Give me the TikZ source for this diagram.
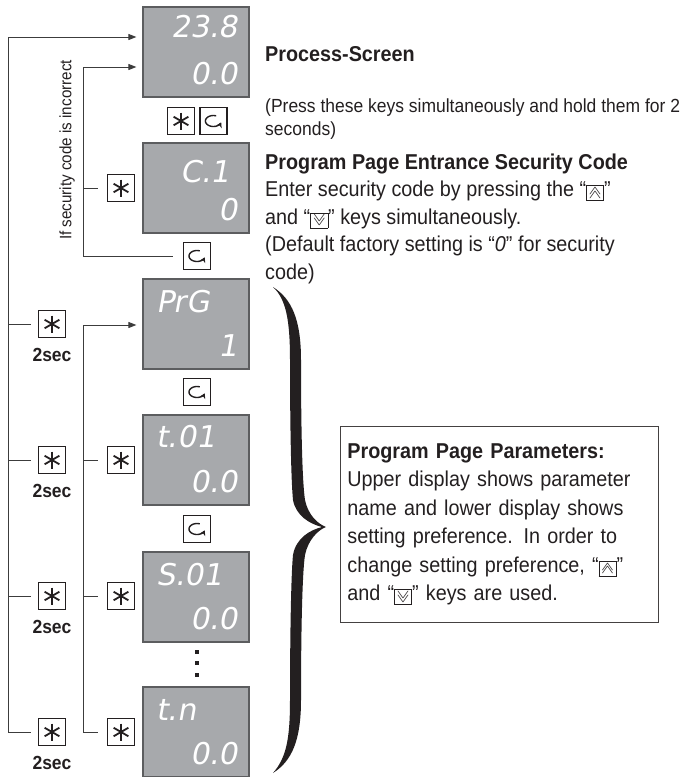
\documentclass[tikz,border=0pt]{standalone}
\usepackage{fontspec}
\usepackage{graphicx}
\setmainfont{Liberation Sans}[FakeStretch=0.92]
\newfontfamily\segfont{DejaVu Sans}[FakeSlant=0.18]
\usetikzlibrary{positioning,arrows.meta,calc}
\definecolor{lcd}{HTML}{A7A9AC}
\definecolor{lcdedge}{HTML}{5C5D5F}
\definecolor{ink}{HTML}{231F20}
\definecolor{wire}{HTML}{3C3C3C}
\newcommand{\headfont}{\fontsize{21.5}{28}\selectfont\bfseries}
\newcommand{\bodyfont}{\fontsize{21.5}{27.5}\selectfont}
\newcommand{\boxfont}{\fontsize{21.5}{28.5}\selectfont}
\newcommand{\notefont}{\fontsize{19}{22.5}\selectfont}
\newcommand{\chev}[1]{\scalebox{1.35}[0.85]{$#1$}}
\newcommand{\upkey}{{\setlength{\fboxsep}{1.8pt}\setlength{\fboxrule}{0.7pt}\fbox{\fontsize{14}{14}\selectfont$\vcenter{\offinterlineskip\hbox{\chev{\wedge}}\kern-3pt\hbox{\chev{\wedge}}}$}}}
\newcommand{\downkey}{{\setlength{\fboxsep}{1.8pt}\setlength{\fboxrule}{0.7pt}\fbox{\fontsize{14}{14}\selectfont$\vcenter{\offinterlineskip\hbox{\chev{\vee}}\kern-3pt\hbox{\chev{\vee}}}$}}}

\begin{document}
\begin{tikzpicture}[x=1pt,y=-1pt,
  disp/.style={rectangle,fill=lcd,draw=lcdedge,line width=1.2pt,minimum width=106pt,minimum height=90pt,inner sep=0pt},
  seg/.style={font=\segfont\fontsize{30}{30}\selectfont,text=white,inner sep=0pt},
  keybox/.style={rectangle,draw=ink,line width=1.4pt,fill=white,minimum size=27pt,inner sep=0pt},
  starkey/.style={keybox,path picture={
      \foreach \sa in {90,30,150}
        \draw[ink,line width=1.8pt] ($(path picture bounding box.center)+(\sa:8.5pt)$) -- ($(path picture bounding box.center)+(\sa+180:8.5pt)$);}},
  loopkey/.style={keybox,path picture={
      \draw[ink,line width=1.4pt,-{Stealth[length=5pt,width=6pt]},shift={(path picture bounding box.center)}]
        plot[smooth,domain=70:345,samples=24] ({8*cos(\x)},{-5.5*sin(\x)});}},
  dotsq/.style={rectangle,fill=ink,minimum size=4.5pt,inner sep=0pt},
  secl/.style={font=\fontsize{19}{19}\selectfont\bfseries,text=ink,inner sep=0pt},
  wire/.style={draw=wire,line width=0.9pt},
  tip/.style={-{Triangle[length=8pt,width=6pt]}}]
  \useasboundingbox (0,0) rectangle (684,777);

  % the six screens
  \foreach \dname/\dy/\uptxt/\upanc/\upx/\upy/\lotxt in {
      proc/52/23.8/base east/238/37/0.0,
      code/188/C.1/base west/180/182/0,
      prg/324/PrG/base west/156/312/1,
      t01/460/t.01/base west/156/447/0.0,
      s01/597/S.01/base west/156/585/0.0,
      tn/732/t.n/base west/156/720/0.0} {
    \node[disp] (\dname) at (196,\dy) {};
    \node[seg,anchor=\upanc] (\dname-up) at (\upx,\upy) {\uptxt};
    \node[seg,anchor=base east] (\dname-lo) at (238,\dy+32) {\lotxt};
  }

  % keys between the screens
  \node[starkey] (pstar) at (181,121) {};
  \node[loopkey,right=4pt of pstar] (ploop) {};
  \node[starkey] (cstar) at (121,188) {};
  \node[loopkey] (cloop) at (197,256) {};
  \node[loopkey] (prgloop) at (197,392) {};
  \node[loopkey] (t01loop) at (197,529) {};
  \foreach \dotpos [count=\di] in {652,663,675}
    \node[dotsq] (dot\di) at (197,\dotpos) {};

  % star keys on the two return lines
  \foreach \ky [count=\ki] in {324,460,596,732} {
    \node[starkey] (outer\ki) at (52,\ky) {};
    \node[secl,below=10pt of outer\ki] (sec\ki) {2sec};
  }
  \foreach \ky [count=\ki] in {460,596,732}
    \node[starkey] (inner\ki) at (121,\ky) {};

  \coordinate (outer-top) at (8,37);
  \coordinate (sec-top) at (83,67);
  \coordinate (inner-top) at (83,325);

  \draw[wire,tip,shorten <=7pt,shorten >=6pt] (outer4.west) -| (outer-top) -- (proc.west |- outer-top);
  \foreach \ki in {1,2,3}
    \draw[wire,shorten <=7pt] (outer\ki.west) -- (outer\ki -| outer-top);
  \draw[wire,tip,shorten <=10pt,shorten >=6pt] (cloop.west) -| (sec-top) -- (proc.west |- sec-top);
  \draw[wire,shorten <=9pt] (cstar.west) -- (cstar -| sec-top);
  \draw[wire,tip,shorten <=9pt,shorten >=6pt] (inner3.west) -| (inner-top) -- (prg.west |- inner-top);
  \foreach \ki in {1,2}
    \draw[wire,shorten <=9pt] (inner\ki.west) -- (inner\ki -| inner-top);

  \node[rotate=90,font=\fontsize{16.5}{16.5}\selectfont,text=ink,inner sep=0pt] (incorrect) at (67,150) {If security code is incorrect};

  % texts on the right (base = last line)
  \node[anchor=base west,font=\headfont,text=ink,inner sep=0pt] (proc-head) at (265,61) {Process-Screen};
  \node[anchor=base west,font=\notefont,text=ink,align=left,inner sep=0pt] (proc-note) at (265,135)
    {(Press these keys simultaneously and hold them for 2\\seconds)};
  \node[anchor=base west,font=\bodyfont,text=ink,align=left,inner sep=0pt] (code-text) at (265,279)
    {\textbf{Program Page Entrance Security Code}\\
     Enter security code by pressing the “\upkey”\\
     and “\downkey” keys simultaneously.\\
     (Default factory setting is “\textit{0}” for security\\
     code)};

  % big brace over the parameter screens
  \fill[ink] (273,287) .. controls (292,299) and (301,320) .. (301,360)
    .. controls (301,420) and (302,480) .. (305,500)
    .. controls (308,515) and (318,524) .. (326,527)
    .. controls (318,530) and (308,540) .. (305,555)
    .. controls (302,575) and (301,640) .. (301,700)
    .. controls (301,740) and (292,761) .. (273,773)
    .. controls (286,758) and (290,740) .. (290,700)
    .. controls (290,640) and (291,575) .. (293,555)
    .. controls (296,538) and (310,530) .. (322,527)
    .. controls (310,524) and (296,516) .. (293,500)
    .. controls (291,480) and (290,420) .. (290,360)
    .. controls (290,320) and (286,299) .. (273,287) -- cycle;

  \node[draw=ink!85,line width=0.8pt,anchor=north west,text width=304pt,inner xsep=7pt,inner ysep=17pt,
        align=left,font=\boxfont,text=ink] (params) at (340,426)
    {\textbf{Program Page Parameters:}\\
     Upper display shows parameter\\
     name and lower display shows\\
     setting preference. In order to\\
     change setting preference, “\upkey”\\
     and “\downkey” keys are used.};
\end{tikzpicture}
\end{document}
